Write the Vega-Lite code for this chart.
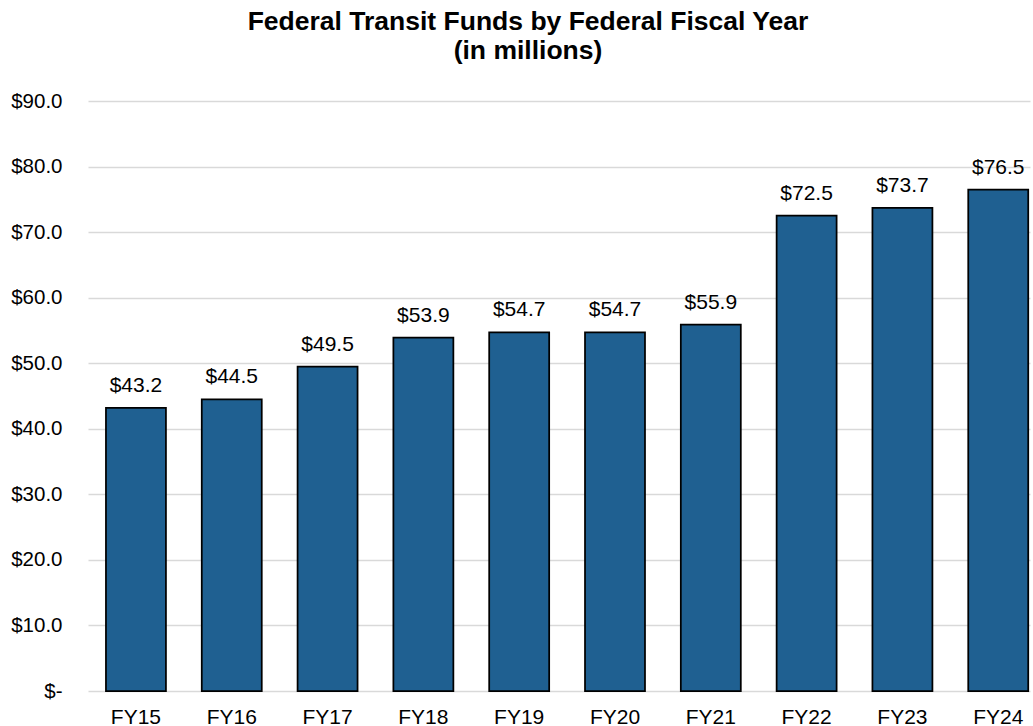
{
  "$schema": "https://vega.github.io/schema/vega-lite/v6.json",
  "autosize": "none",
  "width": 942,
  "height": 590,
  "padding": {"left": 88, "top": 101, "right": 3, "bottom": 35},
  "background": "white",
  "title": {
    "text": ["Federal Transit Funds by Federal Fiscal Year", "(in millions)"],
    "font": "Liberation Sans",
    "fontSize": 26.5,
    "fontWeight": "bold",
    "color": "#000000",
    "anchor": "middle",
    "frame": "group",
    "dx": -31,
    "dy": 35,
    "lineHeight": 28.5,
    "baseline": "alphabetic",
    "offset": 41
  },
  "data": {
    "values": [
      {"year": "FY15", "value": 43.2},
      {"year": "FY16", "value": 44.5},
      {"year": "FY17", "value": 49.5},
      {"year": "FY18", "value": 53.9},
      {"year": "FY19", "value": 54.7},
      {"year": "FY20", "value": 54.7},
      {"year": "FY21", "value": 55.9},
      {"year": "FY22", "value": 72.5},
      {"year": "FY23", "value": 73.7},
      {"year": "FY24", "value": 76.5}
    ]
  },
  "config": {
    "view": {"stroke": null},
    "font": "Liberation Sans"
  },
  "encoding": {
    "x": {
      "field": "year",
      "type": "nominal",
      "sort": null,
      "scale": {"paddingInner": 0.374, "paddingOuter": 0.103, "align": 0.91},
      "axis": {
        "title": null,
        "labelAngle": 0,
        "domain": false,
        "ticks": false,
        "tickSize": 0,
        "grid": false,
        "labelFont": "Liberation Sans",
        "labelFontSize": 21,
        "labelColor": "#000000",
        "labelBaseline": "alphabetic",
        "labelPadding": 32
      }
    },
    "y": {
      "field": "value",
      "type": "quantitative",
      "scale": {"domain": [0, 90], "nice": false},
      "axis": {
        "title": null,
        "values": [0, 10, 20, 30, 40, 50, 60, 70, 80, 90],
        "format": "$.1f",
        "labelExpr": "datum.value === 0 ? '$-' : datum.label",
        "domain": false,
        "ticks": false,
        "tickSize": 0,
        "grid": true,
        "gridColor": "#D9D9D9",
        "gridWidth": 1.5,
        "labelFont": "Liberation Sans",
        "labelFontSize": 20.5,
        "labelColor": "#000000",
        "labelPadding": 26,
        "encode": {
          "labels": {
            "update": {
              "dx": {"signal": "datum.value === 0 ? -10 : 0"}
            }
          }
        }
      }
    }
  },
  "layer": [
    {
      "mark": {
        "type": "bar",
        "fill": "#1F6091",
        "stroke": "#000000",
        "strokeWidth": 1.75
      }
    },
    {
      "mark": {
        "type": "text",
        "baseline": "alphabetic",
        "dy": -16,
        "font": "Liberation Sans",
        "fontSize": 21,
        "color": "#000000"
      },
      "encoding": {
        "text": {"field": "value", "type": "quantitative", "format": "$.1f"}
      }
    }
  ]
}
